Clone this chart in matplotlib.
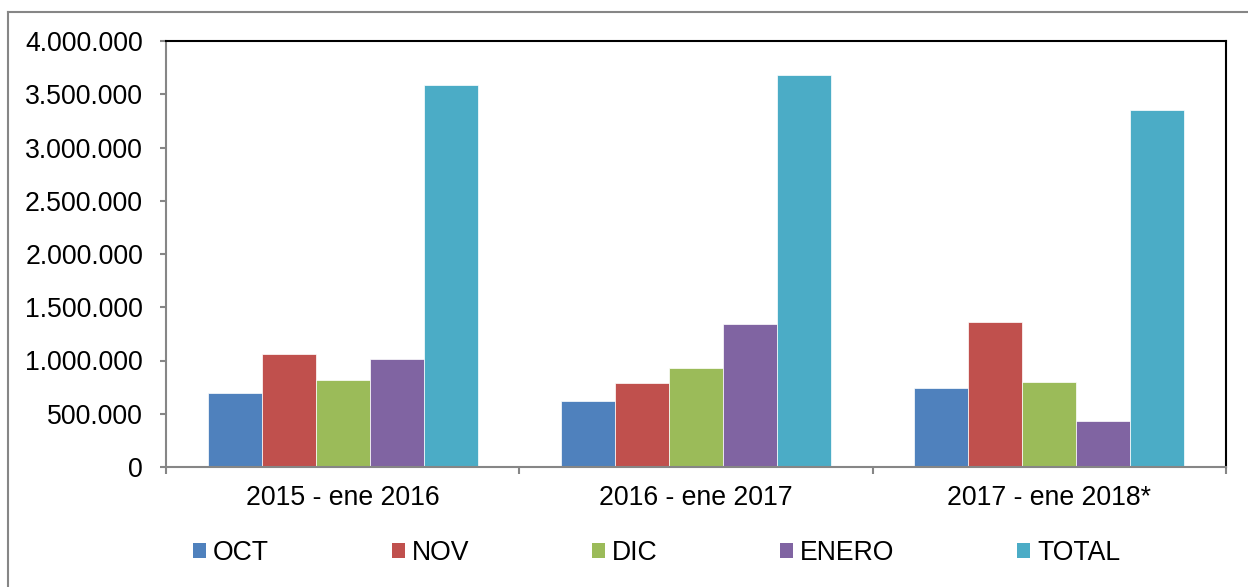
import numpy as np
import matplotlib.pyplot as plt
from matplotlib.patches import Patch
from matplotlib.ticker import FuncFormatter, MultipleLocator

plt.rcParams['font.family'] = ['Liberation Sans', 'DejaVu Sans']

# datos
periodos = ['2015 - ene 2016', '2016 - ene 2017', '2017 - ene 2018*']
series = ['OCT', 'NOV', 'DIC', 'ENERO', 'TOTAL']
oct_ = [695000, 617000, 742000]
nov = [1058000, 789000, 1359000]
dic = [814000, 927000, 798000]
enero = [1011000, 1340000, 429000]
total = [3587000, 3681000, 3352000]
colores = ['#4F81BD', '#C0504D', '#9BBB59', '#8064A2', '#4BACC6']

valores = [oct_, nov, dic, enero, total]

fig = plt.figure(figsize=(12.48, 5.87), dpi=100)
ax = fig.add_axes([166 / 1248, 1 - 467 / 587, 1060 / 1248, 426 / 587])

x = np.arange(len(periodos))
ancho = 0.153
for i, (nombre, vals) in enumerate(zip(series, valores)):
    ax.bar(x + (i - 2) * ancho, vals, ancho, color=colores[i],
           edgecolor='white', linewidth=0.5, label=nombre, zorder=2)

ax.set_xlim(-0.5, len(periodos) - 0.5)
ax.set_ylim(0, 4000000)
ax.yaxis.set_major_locator(MultipleLocator(500000))
ax.yaxis.set_major_formatter(FuncFormatter(lambda v, p: f'{int(v):,}'.replace(',', '.')))

fs = 19.2
ax.set_xticks(x)
ax.set_xticklabels(periodos)
ax.set_xticks(np.arange(-0.5, len(periodos)), minor=True)
ax.tick_params(axis='x', which='major', length=0, pad=13, labelsize=fs)
ax.tick_params(axis='x', which='minor', length=5, width=1.5, color='#868686', direction='out')
ax.tick_params(axis='y', length=4.5, width=1.5, color='#868686', pad=12, labelsize=fs)

for s in ['left', 'bottom']:
    ax.spines[s].set_color('#868686')
    ax.spines[s].set_linewidth(1.5)
for s in ['top', 'right']:
    ax.spines[s].set_color('black')
    ax.spines[s].set_linewidth(1.5)

handles = [Patch(facecolor=c, label=n) for c, n in zip(colores, series)]
fig.legend(handles=handles, ncol=5, loc='center left',
           bbox_to_anchor=(193 / 1248, 1 - 553 / 587), frameon=False, fontsize=fs,
           handlelength=0.49, handleheight=0.49, handletextpad=0.26,
           columnspacing=4.6, borderpad=0, borderaxespad=0)

# marco exterior
fig.add_artist(plt.Line2D([8 / 1248, 8 / 1248], [0, 1 - 12 / 587], color='#868686', lw=1.5))
fig.add_artist(plt.Line2D([8 / 1248, 1], [1 - 12 / 587, 1 - 12 / 587], color='#868686', lw=1.5))

fig.savefig('out.png', dpi=100)
